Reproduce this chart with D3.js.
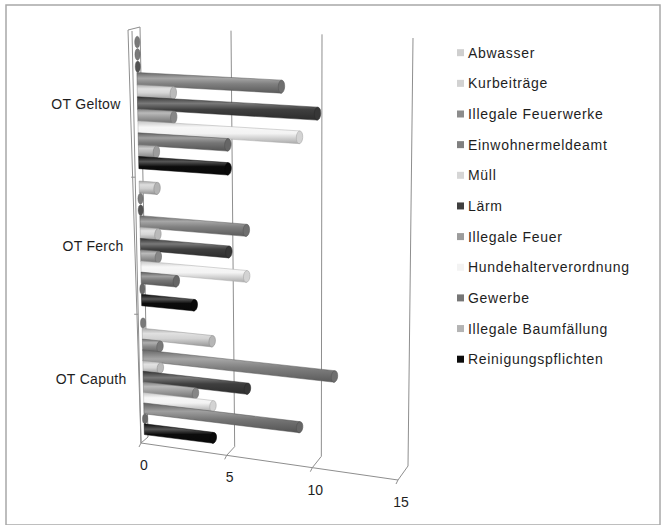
<!DOCTYPE html>
<html>
<head>
<meta charset="utf-8">
<script src="https://cdn.jsdelivr.net/npm/d3@7"></script>
<style>
    body { margin: 0; background: #fff; }
    svg { display: block; font-family: "Liberation Sans", Arial, sans-serif; }
</style>
</head>
<body>
<div id="chart"></div>
<script>
// data
let categories = ["OT Geltow", "OT Ferch", "OT Caputh"];
let seriesNames = ["Abwasser", "Kurbeiträge", "Illegale Feuerwerke", "Einwohnermeldeamt", "Müll", "Lärm",
    "Illegale Feuer", "Hundehalterverordnung", "Gewerbe", "Illegale Baumfällung", "Reinigungspflichten"];
let seriesColors = ["#cfcfcf", "#d2d2d2", "#8c8c8c", "#808080", "#d6d6d6", "#3f3f3f",
    "#9c9c9c", "#f3f3f3", "#767676", "#b4b4b4", "#0c0c0c"];
// values per category: Geltow, Ferch, Caputh
let abwasser = [0, 1, 0];
let kurbeitraege = [0, 0, 4];
let feuerwerke = [0, 0, 1];
let einwohnermeldeamt = [8, 6, 11];
let muell = [2, 1, 1];
let laerm = [10, 5, 6];
let feuer = [2, 1, 3];
let hundehalter = [9, 6, 4];
let gewerbe = [5, 2, 9];
let baumfaellung = [1, 0, 0];
let reinigung = [5, 3, 4];
let seriesValues = [abwasser, kurbeitraege, feuerwerke, einwohnermeldeamt, muell, laerm,
    feuer, hundehalter, gewerbe, baumfaellung, reinigung];
let valueTicks = [0, 5, 10, 15];

let w = 665;
let h = 525;

let svg = d3.select("#chart")
    .append("svg")
    .attr("width", w)
    .attr("height", h);

// outer frame
svg.append("rect")
    .attr("x", 6).attr("y", 5)
    .attr("width", 654).attr("height", 520)
    .attr("fill", "none")
    .attr("stroke", "#a8a8a8")
    .attr("stroke-width", 1.5);

// the 3d box: back wall plane and front plane, top and bottom edges
let backTopX = d3.scaleLinear().domain([0, 15]).range([140, 413]);
let backTopY = d3.scaleLinear().domain([0, 15]).range([27, 38]);
let backBotX = d3.scaleLinear().domain([0, 15]).range([148, 408]);
let backBotY = d3.scaleLinear().domain([0, 15]).range([437, 466]);
let frontTopX = d3.scaleLinear().domain([0, 15]).range([132, 404]);
let frontTopY = d3.scaleLinear().domain([0, 15]).range([31, 44]);
let frontBotX = d3.scaleLinear().domain([0, 15]).range([141, 398]);
let frontBotY = d3.scaleLinear().domain([0, 15]).range([443, 480]);

// a little perspective down the category axis
function persp(t) { return t * 1.1 / (1 + 0.1 * t); }

// v = value, t = 0..1 top to bottom, d = 0 back .. 1 front
function proj(v, t, d) {
    let s = persp(t);
    let bx = backTopX(v) + (backBotX(v) - backTopX(v)) * s;
    let by = backTopY(v) + (backBotY(v) - backTopY(v)) * s;
    let fx = frontTopX(v) + (frontBotX(v) - frontTopX(v)) * s;
    let fy = frontTopY(v) + (frontBotY(v) - frontTopY(v)) * s;
    return [bx + (fx - bx) * d, by + (fy - by) * d];
}

let catScale = d3.scaleBand()
    .domain(categories)
    .range([0, 1]);
let seriesScale = d3.scaleBand()
    .domain(seriesNames)
    .range([0, catScale.bandwidth()])
    .paddingOuter(0.55)
    .paddingInner(0);

let line = d3.line();
let gridColor = "#8e8e8e";

// gridlines on the back wall and floor
let grid = svg.append("g");
valueTicks.forEach(function (v) {
    grid.append("path")
        .attr("d", line([proj(v, 0, 0), proj(v, 1, 0), proj(v, 1, 1)]))
        .attr("fill", "none")
        .attr("stroke", gridColor)
        .attr("stroke-width", 1);
});
// left wall and floor edge
grid.append("path")
    .attr("d", line([proj(0, 0, 0), [proj(0, 0, 1)[0] - 4, proj(0, 0, 1)[1] - 1], proj(0, 1, 1), proj(15, 1, 1)]))
    .attr("fill", "none")
    .attr("stroke", gridColor)
    .attr("stroke-width", 1);
grid.append("path")
    .attr("d", line([proj(0, 0, 1), proj(0, 1, 1)]))
    .attr("fill", "none")
    .attr("stroke", gridColor);

// ticks on value axis
valueTicks.forEach(function (v) {
    let p = proj(v, 1, 1);
    grid.append("line")
        .attr("x1", p[0]).attr("y1", p[1])
        .attr("x2", p[0] - 2).attr("y2", p[1] + 4)
        .attr("stroke", gridColor);
    svg.append("text")
        .attr("x", p[0] + 3)
        .attr("y", p[1] + 27)
        .attr("text-anchor", "middle")
        .attr("font-size", 14)
        .attr("fill", "#1e1e1e")
        .text(v);
});

// category ticks and labels
[1 / 3, 2 / 3].forEach(function (t) {
    let p = proj(0, t, 1);
    grid.append("line")
        .attr("x1", p[0]).attr("y1", p[1])
        .attr("x2", p[0] - 4).attr("y2", p[1])
        .attr("stroke", gridColor);
});
categories.forEach(function (c) {
    let p = proj(0, catScale(c) + catScale.bandwidth() / 2, 1);
    svg.append("text")
        .attr("x", p[0] - 13)
        .attr("y", p[1] + 4)
        .attr("text-anchor", "end")
        .attr("font-size", 14)
        .attr("letter-spacing", 0.3)
        .attr("fill", "#1e1e1e")
        .text(c);
});

// gradients for the cylinders
let defs = svg.append("defs");
seriesColors.forEach(function (c, i) {
    let g = defs.append("linearGradient")
        .attr("id", "grad" + i)
        .attr("x1", 0).attr("y1", 0).attr("x2", 0).attr("y2", 1);
    g.append("stop").attr("offset", "0%").attr("stop-color", d3.color(c).darker(0.6));
    g.append("stop").attr("offset", "28%").attr("stop-color", d3.interpolateRgb(c, "#fff")(0.3));
    g.append("stop").attr("offset", "55%").attr("stop-color", c);
    g.append("stop").attr("offset", "100%").attr("stop-color", d3.color(c).darker(1));
});

// bars
let bars = svg.append("g");
categories.forEach(function (cat, ci) {
    seriesNames.forEach(function (name, si) {
        let v = seriesValues[si][ci];
        let t0 = catScale(cat) + seriesScale(name);
        let bw = seriesScale.bandwidth();
        let tTop = t0 - bw * 0.02;
        let tBot = t0 + bw * 1.02;
        let tMid = t0 + bw / 2;
        let color = seriesColors[si];
        let edge = d3.color(color).darker(1);
        let a = proj(0, tTop, 0.5), b = proj(v, tTop, 0.5);
        let c = proj(v, tBot, 0.5), d = proj(0, tBot, 0.5);
        let start = proj(0, tMid, 0.5);
        let end = proj(v, tMid, 0.5);
        let ry = (c[1] - b[1]) / 2;
        let angle = Math.atan2(end[1] - start[1], end[0] - start[0]) * 180 / Math.PI;
        if (v > 0) {
            bars.append("path")
                .attr("d", line([a, b, c, d]) + "Z")
                .attr("fill", "url(#grad" + si + ")")
                .attr("stroke", edge)
                .attr("stroke-width", 0.5);
            bars.append("ellipse")
                .attr("cx", end[0]).attr("cy", end[1])
                .attr("rx", 3.2).attr("ry", ry)
                .attr("transform", "rotate(" + angle + "," + end[0] + "," + end[1] + ")")
                .attr("fill", d3.color(color).darker(0.4))
                .attr("stroke", edge)
                .attr("stroke-width", 0.6);
        } else {
            bars.append("ellipse")
                .attr("cx", end[0] + 1).attr("cy", end[1])
                .attr("rx", 2.6).attr("ry", ry * 0.9)
                .attr("fill", d3.color(color).darker(1.5))
                .attr("stroke", "#555")
                .attr("stroke-width", 0.4);
        }
    });
});

// legend
let legend = svg.append("g");
seriesNames.forEach(function (name, i) {
    let y = 52.7 + i * 30.65;
    legend.append("rect")
        .attr("x", 457).attr("y", y - 3.5)
        .attr("width", 7).attr("height", 7)
        .attr("fill", seriesColors[i]);
    legend.append("text")
        .attr("x", 468)
        .attr("y", y + 5)
        .attr("font-size", 14)
        .attr("letter-spacing", 0.7)
        .attr("fill", "#1e1e1e")
        .text(name);
});
</script>
</body>
</html>
